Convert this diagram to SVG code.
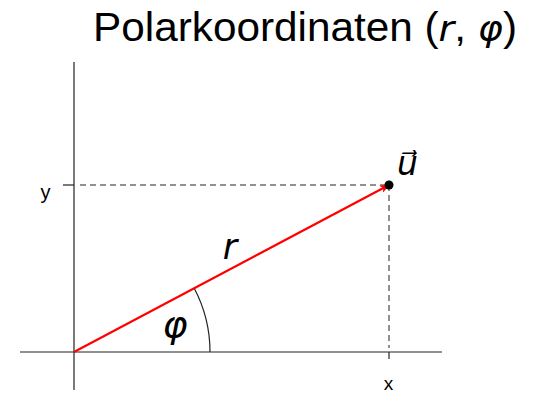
<svg xmlns="http://www.w3.org/2000/svg" width="533" height="394" viewBox="0 0 533 394">
<style>
.ax{stroke:#222;stroke-width:1.2;fill:none}
.da{stroke:#222;stroke-width:1;stroke-dasharray:6,4;fill:none}
.t{font-family:"Liberation Sans",Arial,sans-serif;fill:#000}
.m{font-family:"DejaVu Sans","Liberation Sans",sans-serif;font-style:italic;fill:#000}
</style>
<defs>
<marker id="ah" markerWidth="10" markerHeight="8" refX="9" refY="4" orient="auto" markerUnits="userSpaceOnUse"><path d="M0,0 L10,4 L0,8 L2.5,4 Z" fill="#f00"/></marker>
</defs>
<rect width="533" height="394" fill="#fff"/>
<text class="t" x="93" y="41" font-size="40" textLength="424" lengthAdjust="spacingAndGlyphs">Polarkoordinaten (<tspan class="m" font-size="36">r</tspan>, <tspan class="m" font-size="36">φ</tspan>)</text>
<g id="connectors">
<line class="ax" x1="20" y1="352" x2="442" y2="352"/>
<line class="ax" x1="74" y1="62" x2="74" y2="390"/>
<line class="ax" x1="63" y1="185" x2="74" y2="185"/>
<line class="ax" x1="389" y1="352" x2="389" y2="359"/>
<line class="da" x1="80" y1="185" x2="389" y2="185"/>
<line class="da" x1="389" y1="185" x2="389" y2="348"/>
<path class="ax" d="M210,352 A136,136 0 0 0 194.2,288.3" stroke-width="1"/>
<line x1="74" y1="352" x2="389" y2="185" stroke="#f00" stroke-width="2.2" marker-end="url(#ah)"/>
</g>
<g id="point"><circle cx="389" cy="185" r="4.5" fill="#000"/></g>
<g id="labels">
<text class="t" x="45.5" y="199" font-size="20" text-anchor="middle">y</text>
<text class="t" x="388.5" y="390" font-size="19" text-anchor="middle">x</text>
<text class="m" x="230" y="259" font-size="35" text-anchor="middle">r</text>
<text class="m" x="175" y="337" font-size="38" text-anchor="middle">φ</text>
<text class="m" x="397" y="175" font-size="33">u⃗</text>
</g>
</svg>
